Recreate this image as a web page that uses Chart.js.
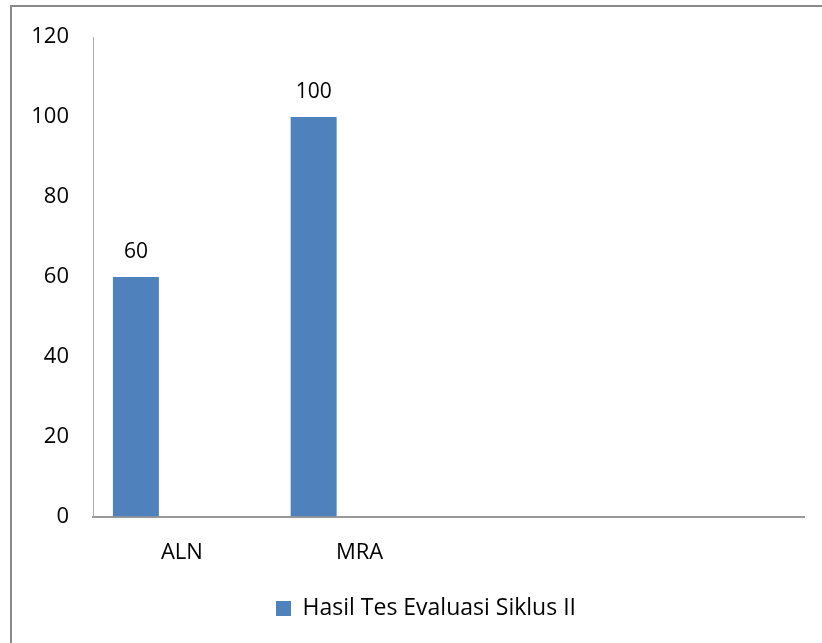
<!DOCTYPE html>
<html>
<head>
<meta charset="utf-8">
<script src="https://cdn.jsdelivr.net/npm/chart.js@4/dist/chart.umd.min.js"></script>
<style>
  html, body { margin: 0; padding: 0; background: #fff; }
  #wrap { position: relative; width: 822px; height: 643px; overflow: hidden; }
  #frame { position: absolute; left: 10px; top: 5px; width: 830px; height: 660px; border: 2px solid #8a8a8a; box-sizing: border-box; }
  canvas { position: absolute; left: 0; top: 0; }
</style>
</head>
<body>
<div id="wrap">
  <div id="frame"></div>
  <canvas id="chart" width="822" height="643"></canvas>
</div>
<script>
// Chart data
const categories = ['ALN', 'MRA', '', ''];
const evaluasiValues = [60, 100, null, null];
const emptySeries2 = [null, null, null, null];
const emptySeries3 = [null, null, null, null];
const yTicks = [0, 20, 40, 60, 80, 100, 120];

const barBlue = '#4F81BD';
const fontFamily = "'Open Sans', 'Liberation Sans', sans-serif";

// draw the value above each bar of the first series
const valueLabels = {
    id: 'valueLabels',
    afterDatasetsDraw(chart) {
        const ctx = chart.ctx;
        const meta = chart.getDatasetMeta(0);
        ctx.save();
        ctx.font = '21px ' + fontFamily;
        ctx.fillStyle = '#000';
        ctx.textAlign = 'center';
        ctx.textBaseline = 'middle';
        meta.data.forEach((bar, i) => {
            const v = evaluasiValues[i];
            if (v == null) return;
            ctx.fillText(String(v), bar.x, bar.y - 25);
        });
        ctx.restore();
    }
};

// legend sits a little right of the canvas centre, under the plot
const legendShift = {
    id: 'legendShift',
    afterLayout(chart) {
        if (!chart.legend) return;
        chart.legend.left += 10;
        chart.legend.right += 10;
    }
};

new Chart(document.getElementById('chart'), {
    type: 'bar',
    data: {
        labels: categories,
        datasets: [
            { label: 'Hasil Tes Evaluasi Siklus II', data: evaluasiValues, backgroundColor: barBlue },
            { label: '', data: emptySeries2, backgroundColor: '#C0504D' },
            { label: '', data: emptySeries3, backgroundColor: '#9BBB59' }
        ]
    },
    options: {
        responsive: false,
        animation: false,
        layout: { padding: { left: 28, right: 18, top: 25, bottom: 13 } },
        datasets: { bar: { categoryPercentage: 0.776, barPercentage: 1 } },
        scales: {
            x: {
                grid: { display: false, drawTicks: false },
                border: { color: '#999', width: 2 },
                ticks: { color: '#000', font: { family: fontFamily, size: 22 }, padding: 23 }
            },
            y: {
                min: 0,
                max: 120,
                afterBuildTicks: (axis) => { axis.ticks = yTicks.map(v => ({ value: v })); },
                afterFit: (axis) => { axis.width = 65; },
                grid: { display: false, drawTicks: false },
                border: { color: '#aaa', width: 1 },
                ticks: { color: '#000', font: { family: fontFamily, size: 22 }, padding: 24 }
            }
        },
        plugins: {
            tooltip: { enabled: false },
            legend: {
                position: 'bottom',
                labels: {
                    filter: (item) => item.text !== '',
                    color: '#000',
                    font: { family: fontFamily, size: 23 },
                    boxWidth: 15,
                    boxHeight: 15,
                    padding: 8
                }
            }
        }
    },
    plugins: [valueLabels, legendShift]
});
</script>
</body>
</html>
